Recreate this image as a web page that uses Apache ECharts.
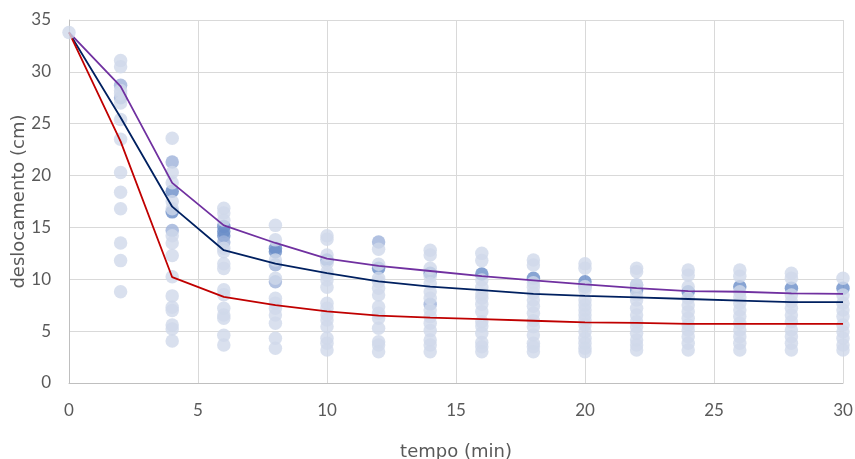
<!DOCTYPE html>
<html>
<head>
<meta charset="utf-8">
<script src="https://cdn.jsdelivr.net/npm/echarts@6/dist/echarts.min.js"></script>
<style>
  html, body { margin: 0; padding: 0; background: #ffffff; }
  #chart { width: 855px; height: 459px; }
</style>
</head>
<body>
<div id="chart"></div>
<script>
// ---- data ----
const times = [0, 2, 4, 6, 8, 10, 12, 14, 16, 18, 20, 22, 24, 26, 28, 30];

const purpleLine = [33.8, 28.6, 19.3, 15.2, 13.5, 12.0, 11.3, 10.8, 10.3, 9.9, 9.5, 9.15, 8.85, 8.8, 8.65, 8.6];
const navyLine   = [33.8, 25.6, 17.0, 12.8, 11.5, 10.6, 9.8, 9.3, 8.95, 8.6, 8.4, 8.25, 8.1, 7.95, 7.8, 7.8];
const redLine    = [33.8, 23.3, 10.2, 8.3, 7.5, 6.9, 6.5, 6.3, 6.15, 6.0, 5.85, 5.8, 5.7, 5.7, 5.7, 5.7];

// starting measurement (drawn above the lines)
const startPoint = [[0, 33.8]];

// measured points, one list per time (light, most common shade)
const lightByTime = [
  [],
  [31.1, 30.5, 28.2, 27.9, 27.0, 25.4, 23.5, 20.3, 18.4, 16.8, 13.5, 11.8, 8.8],
  [23.6, 20.3, 19.3, 17.5, 16.8, 14.2, 13.5, 12.3, 10.25, 8.4, 7.3, 7.0, 5.6, 5.2, 4.05],
  [16.85, 16.4, 15.7, 13.0, 12.66, 11.5, 11.05, 9.0, 8.5, 7.2, 6.56, 6.24, 4.6, 3.66],
  [15.2, 13.8, 11.86, 10.1, 8.17, 7.7, 7.2, 6.56, 5.76, 4.31, 3.35],
  [14.2, 13.86, 12.34, 11.54, 10.73, 10.4, 9.93, 9.23, 7.69, 7.2, 6.56, 6.08, 5.43, 4.31, 3.83, 3.18],
  [12.9, 11.45, 10.1, 9.77, 9.13, 8.49, 7.36, 6.72, 6.24, 5.27, 3.98, 3.66, 3.02],
  [12.8, 12.34, 11.06, 10.3, 9.6, 8.8, 8.17, 7.04, 6.4, 5.76, 5.05, 4.15, 3.66, 3.02],
  [12.5, 11.8, 9.93, 9.23, 8.58, 8.17, 7.6, 6.88, 5.9, 5.5, 4.8, 3.9, 3.5, 3.02],
  [11.86, 11.38, 9.67, 9.23, 8.65, 8.0, 7.4, 6.72, 6.0, 5.43, 4.63, 3.83, 3.5, 3.02],
  [11.5, 11.06, 9.29, 8.97, 8.0, 7.52, 7.04, 6.56, 6.08, 5.59, 4.95, 4.31, 3.83, 3.35, 3.02],
  [11.06, 10.73, 9.45, 8.49, 8.0, 7.2, 6.56, 5.9, 5.43, 4.8, 4.15, 3.66, 3.18],
  [10.9, 10.4, 9.29, 8.17, 7.52, 6.88, 6.24, 5.59, 5.11, 4.47, 3.83, 3.18],
  [10.9, 10.3, 8.8, 8.3, 7.7, 7.04, 6.4, 5.76, 5.11, 4.47, 3.83, 3.18],
  [10.58, 10.1, 8.49, 7.84, 7.2, 6.56, 5.9, 5.11, 4.47, 3.83, 3.18],
  [10.1, 8.49, 7.7, 7.04, 6.4, 5.59, 4.95, 4.31, 3.66, 3.18]
];
// medium shade points
const mediumByTime = [
  [], [28.7, 27.5], [21.3, 14.7], [13.6], [11.4, 9.77], [], [13.6], [7.6],
  [], [], [9.3], [9.45], [], [], [], []
];
// dark shade points
const darkByTime = [
  [], [], [18.5, 16.5], [15.1, 14.6, 14.2], [13.0, 12.66], [11.86], [11.06], [10.58],
  [10.5], [10.1], [9.77], [8.97], [8.8], [9.29], [9.13], [9.13]
];

const xTicks = { min: 0, max: 30, interval: 5 };
const yTicks = { min: 0, max: 35, interval: 5 };

// ---- build ----
function toPairs(byTime) {
  const out = [];
  byTime.forEach((vals, i) => vals.forEach(v => out.push([times[i], v])));
  return out;
}
function linePairs(vals) { return vals.map((v, i) => [times[i], v]); }

const tickFont = 'Lato, "Open Sans", sans-serif';
const titleFont = '"DejaVu Sans", sans-serif';
const chart = echarts.init(document.getElementById('chart'), null, { renderer: 'canvas' });
chart.setOption({
  animation: false,
  backgroundColor: '#ffffff',
  grid: { left: 69, right: 12, top: 20, bottom: 76, containLabel: false, outerBoundsMode: 'none' },
  xAxis: {
    type: 'value', min: xTicks.min, max: xTicks.max, interval: xTicks.interval,
    name: 'tempo (min)', nameLocation: 'middle', nameGap: 60, nameMoveOverlap: false,
    nameTextStyle: { color: '#595959', fontSize: 18, fontFamily: titleFont },
    axisLine: { show: true, lineStyle: { color: '#bfbfbf', width: 1 } },
    axisTick: { show: false },
    axisLabel: { color: '#595959', fontSize: 17, fontFamily: tickFont, margin: 19 },
    splitLine: { show: true, lineStyle: { color: '#d9d9d9', width: 1 } }
  },
  yAxis: {
    type: 'value', min: yTicks.min, max: yTicks.max, interval: yTicks.interval,
    name: 'deslocamento (cm)', nameLocation: 'middle', nameGap: 41, nameRotate: 90,
    nameMoveOverlap: false,
    nameTextStyle: { color: '#595959', fontSize: 18, fontFamily: titleFont },
    axisLine: { show: true, lineStyle: { color: '#bfbfbf', width: 1 } },
    axisTick: { show: false },
    axisLabel: { color: '#595959', fontSize: 17, fontFamily: tickFont, margin: 18 },
    splitLine: { show: true, lineStyle: { color: '#d9d9d9', width: 1 } }
  },
  series: [
    { type: 'scatter', name: 'dark', data: toPairs(darkByTime), symbolSize: 13.5,
      itemStyle: { color: '#6a8dc8' }, z: 2 },
    { type: 'scatter', name: 'medium', data: toPairs(mediumByTime), symbolSize: 13.5,
      itemStyle: { color: '#9db1d9' }, z: 3 },
    { type: 'scatter', name: 'light', data: toPairs(lightByTime), symbolSize: 13.5,
      itemStyle: { color: '#d0d8ea' }, z: 4 },
    { type: 'line', name: 'purple', data: linePairs(purpleLine), showSymbol: false, symbol: 'none',
      lineStyle: { color: '#7030a0', width: 1.8 }, z: 5 },
    { type: 'line', name: 'navy', data: linePairs(navyLine), showSymbol: false, symbol: 'none',
      lineStyle: { color: '#002060', width: 1.8 }, z: 5 },
    { type: 'line', name: 'red', data: linePairs(redLine), showSymbol: false, symbol: 'none',
      lineStyle: { color: '#c00000', width: 1.8 }, z: 5 },
    { type: 'scatter', name: 'start', data: startPoint, symbolSize: 13.5,
      itemStyle: { color: '#d0d8ea' }, z: 6 }
  ]
});
</script>
</body>
</html>
